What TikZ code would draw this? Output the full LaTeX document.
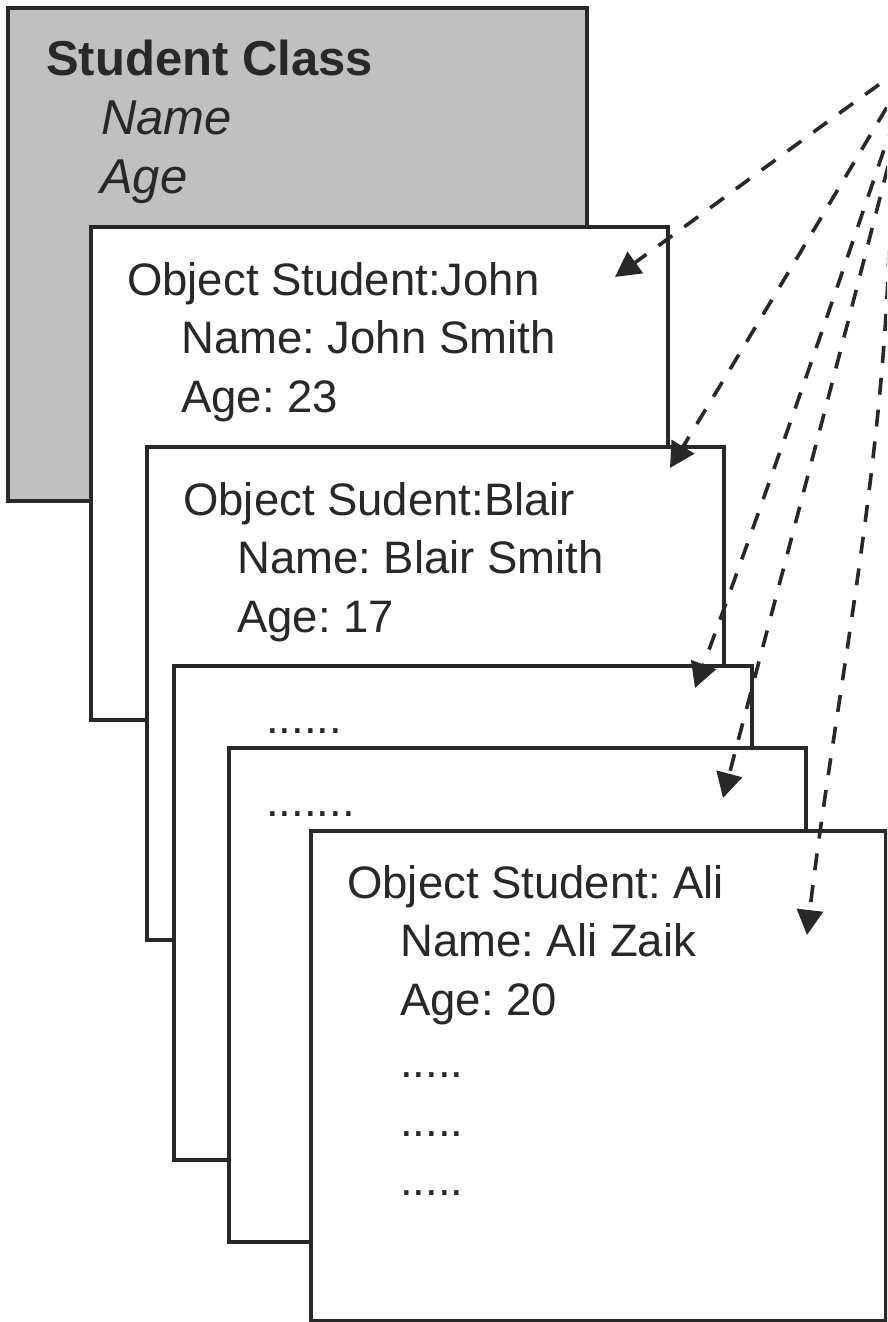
\documentclass[tikz,border=0pt]{standalone}
\usepackage{fontspec}
\setmainfont{Liberation Sans}
\usetikzlibrary{arrows.meta,calc}
\definecolor{boxgray}{RGB}{192,192,192}
\definecolor{ink}{RGB}{40,40,40}
\frenchspacing
\begin{document}
\begin{tikzpicture}[x=1pt,y=-1pt,
  card/.style={draw=ink, line width=3.2pt, fill=white, rectangle, inner sep=0pt, outer sep=0pt,
               anchor=north west, minimum width=577pt, minimum height=493pt},
  classcard/.style={card, fill=boxgray, minimum width=579pt},
  txt/.style={anchor=base west, inner sep=0pt, text=ink, font=\fontsize{45.5}{55}\selectfont},
  ctxt/.style={txt, font=\fontsize{49}{59}\selectfont},
  link/.style={draw=ink, line width=3.6pt, dash pattern=on 17pt off 15pt,
               -{Triangle[length=25pt,width=26pt]}}]
\useasboundingbox (0,0) rectangle (887,1322);
\clip (0,0) rectangle (887,1322);
\fill[white] (0,0) rectangle (887,1322);

% class box
\node[classcard] (cls) at (8,8) {};
\node[ctxt, font=\fontsize{49}{59}\selectfont\bfseries] (clsT) at (46,75) {Student Class};
\node[ctxt, font=\fontsize{49}{59}\selectfont\itshape] (clsN) at (101,134) {Name};
\node[ctxt, font=\fontsize{49}{59}\selectfont\itshape] (clsA) at (100,193) {Age};

% John
\node[card] (john) at (91,227) {};
\node[txt] (johnT) at (127,295) {Object Student:John};
\node[txt] (johnN) at (181,353) {Name: John Smith};
\node[txt] (johnA) at (181,412) {Age: 23};

% Blair
\node[card] (blair) at (147,447) {};
\node[txt] (blairT) at (183,515) {Object Sudent:Blair};
\node[txt] (blairN) at (237,573) {Name: Blair Smith};
\node[txt] (blairA) at (237,632) {Age: 17};

% box 4
\node[card, minimum width=578pt, minimum height=494pt] (four) at (174,666) {};
\node[txt] (fourT) at (266,733) {......};

% box 5
\node[card, minimum height=494pt] (five) at (229,748) {};
\node[txt] (fiveT) at (266,816) {.......};

% Ali
\node[card, minimum width=575pt, minimum height=490pt] (ali) at (311,831) {};
\node[txt] (aliT) at (347,898) {Object Student: Ali};
\node[txt] (aliN) at (400,956) {Name: Ali Zaik};
\node[txt] (aliA) at (400,1015) {Age: 20};
\node[txt] (aliD1) at (400,1077) {.....};
\node[txt] (aliD2) at (400,1136) {.....};
\node[txt] (aliD3) at (400,1195) {.....};

% arrow sources (off the right edge) and targets
\coordinate (s1) at (905,66);
\coordinate (s2) at (903,80);
\coordinate (s3) at (894,120);
\coordinate (s4) at (896,135);
\coordinate (s5) at (889,250);
\coordinate (t1) at ($(john.north east)+(-53,50)$);
\coordinate (t2) at ($(blair.north east)+(-54,21)$);
\coordinate (t3) at ($(four.north east)+(-57,22)$);
\coordinate (t4) at ($(five.north east)+(-83,50)$);
\coordinate (t5) at ($(ali.north east)+(-79,104)$);

\draw[link] (s1) .. controls (808,135) and (711,208) .. (t1);
\draw[link] (s2) .. controls (826,210) and (748,340) .. (t2);
\draw[link] (s3) .. controls (830,310) and (764,500) .. (t3);
\draw[link] (s4) .. controls (840,355) and (781,578) .. (t4);
\draw[link] (s5) .. controls (882,480) and (832,720) .. (t5);
\end{tikzpicture}
\end{document}
